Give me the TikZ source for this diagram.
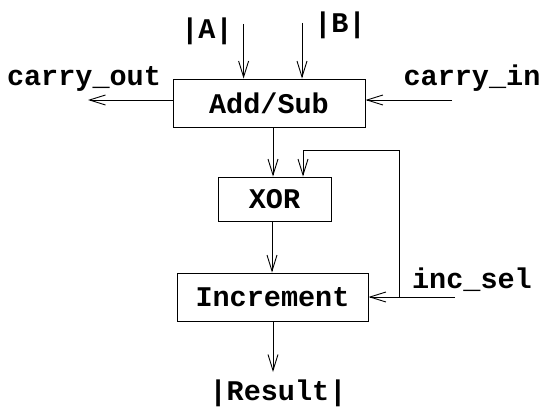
\documentclass[tikz,border=0pt]{standalone}
\usepackage{fontspec}
\newfontfamily\courfont{Liberation Mono}
\usetikzlibrary{arrows.meta}
\tikzset{
  blk/.style={draw, line width=0.9pt, inner sep=0pt, font=\courfont\bfseries\fontsize{28.5}{30}\selectfont},
  lbl/.style={inner sep=0pt, anchor=base, font=\courfont\bfseries\fontsize{28.5}{30}\selectfont},
  arr/.style={line width=0.9pt, -{Straight Barb[length=16pt,width=10pt,line width=0.9pt]}},
  wire/.style={line width=0.9pt}
}
\begin{document}
\begin{tikzpicture}[x=1pt,y=-1pt]
\useasboundingbox (0,0) rectangle (541,409);
\node[blk, minimum width=192pt, minimum height=48pt] (AS) at (269,103) {Add/Sub};
\node[blk, minimum width=113pt, minimum height=44pt] (XOR) at (274.5,199) {XOR};
\node[blk, minimum width=191pt, minimum height=48pt] (INC) at (272.5,297) {Increment};
% labels
\node[lbl] (la) at (207,38.5) {|A|};
\node[lbl] (lb) at (340,33) {|B|};
\node[lbl] (lco) at (84,86) {carry\_out};
\node[lbl] (lci) at (472,86) {carry\_in};
\node[lbl] (lis) at (472,288) {inc\_sel};
\node[lbl] (lres) at (278,400) {|Result|};
% coordinates
\coordinate (ain) at (243.6,24);
\coordinate (bin) at (302,23);
\coordinate (coend) at (88,100);
\coordinate (cistart) at (452,100);
\coordinate (isstart) at (455,297);
\coordinate (corner) at (399,150);
\coordinate (resend) at (273,372);
% connectors
\draw[arr] (ain) -- (ain |- AS.north);
\draw[arr] (bin) -- (bin |- AS.north);
\draw[arr] (AS.west |- coend) -- (coend);
\draw[arr] (cistart) -- (AS.east |- cistart);
\draw[arr] (AS.south -| 273,0) -- (XOR.north -| 273,0);
\draw[arr] (XOR.south -| 272,0) -- (INC.north -| 272,0);
\draw[arr] (isstart) -- (INC.east |- isstart);
\draw[wire] (corner |- isstart) -- (corner);
\draw[arr] (corner) -| ([xshift=28.5pt]XOR.north);
\draw[arr] (INC.south -| resend) -- (resend);
\end{tikzpicture}
\end{document}
